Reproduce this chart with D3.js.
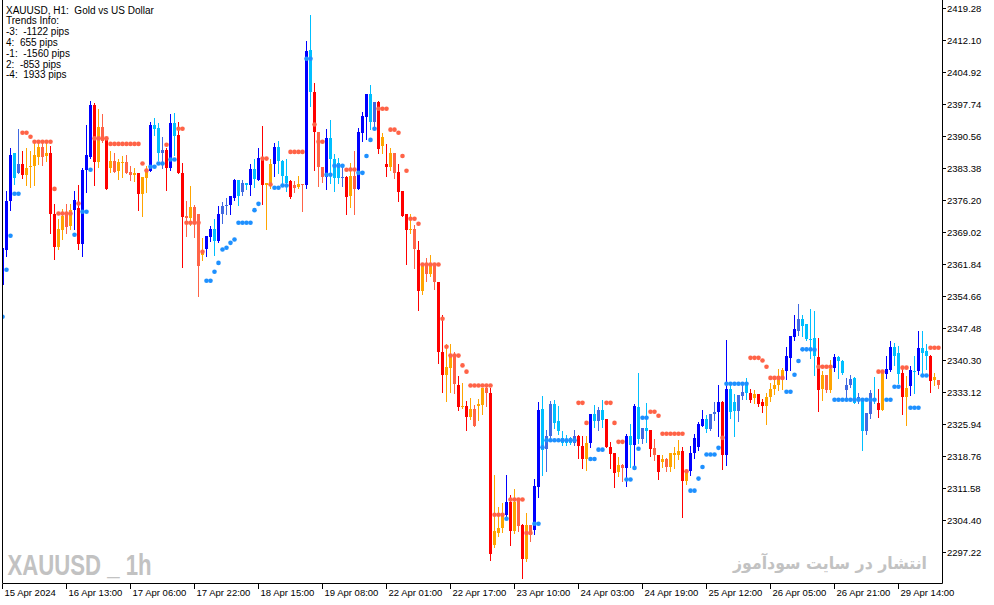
<!DOCTYPE html>
<html>
<head>
<meta charset="utf-8">
<script src="https://cdn.jsdelivr.net/npm/d3@7"></script>
<style>
    body { margin: 0; background: #ffffff; }
    #chart { width: 994px; height: 605px; }
</style>
</head>
<body>
<div id="chart"></div>
<script>

// H1 bars, oldest first
const opens = [
    2357.2, 2365.2, 2376.04, 2381.14, 2382.33, 2384.5, 2383.6, 2384.05, 2386.3, 2388.3,
    2388.3, 2386.75, 2386.75, 2373.06, 2369.7, 2372.83, 2373.28, 2374.18, 2374.18, 2374.56,
    2366.33, 2383.15, 2386.07, 2397.74, 2392.58, 2392.58, 2389.8, 2385.17, 2385.17, 2384.73,
    2384.95, 2384.95, 2382.5, 2382.26, 2382.26, 2381.43, 2383.15, 2382.8, 2392.15, 2386.9,
    2386.75, 2387.64, 2383.4, 2390.6, 2390.85, 2382.4, 2372.67, 2374.7, 2374.7, 2373.06,
    2364.98, 2365.36, 2367.97, 2367.2, 2367.2, 2373.06, 2374.9, 2375.3, 2376.8, 2377.17,
    2378.06, 2379.57, 2379.57, 2381.07, 2380.9, 2385.6, 2380.17, 2384.3, 2384.3, 2385.0,
    2381.65, 2380.17, 2380.53, 2379.57, 2380.0, 2380.0, 2379.57, 2400.6, 2400.6, 2391.6,
    2383.67, 2381.43, 2385.4, 2381.3, 2381.3, 2381.3, 2381.43, 2381.8, 2381.8, 2378.7,
    2391.25, 2395.0, 2393.8, 2393.8, 2398.35, 2390.5, 2384.3, 2386.75, 2386.75, 2382.55,
    2378.3, 2373.06, 2369.9, 2369.9, 2365.2, 2361.84, 2361.6, 2361.84, 2361.84, 2357.9,
    2342.16, 2338.8, 2341.6, 2341.6, 2334.9, 2330.05, 2330.2, 2329.46, 2329.46, 2330.65,
    2334.17, 2334.17, 2332.9, 2302.15, 2302.75, 2305.75, 2305.6, 2308.5, 2308.5, 2308.95,
    2303.5, 2303.5, 2303.3, 2302.2, 2311.9, 2320.3, 2320.55, 2323.3, 2326.3, 2324.5,
    2321.8, 2321.7, 2321.8, 2321.8, 2323.47, 2321.2, 2321.8, 2321.8, 2326.7, 2326.7,
    2326.9, 2327.1, 2320.95, 2319.45, 2316.96, 2316.96, 2316.1, 2321.3, 2321.3, 2322.6,
    2322.6, 2324.5, 2324.8, 2320.7, 2319.2, 2318.26, 2318.1, 2319.45, 2319.45, 2320.1,
    2320.1, 2315.2, 2315.46, 2319.6, 2321.0, 2325.7, 2325.0, 2325.0, 2328.2, 2328.7,
    2331.0, 2319.07, 2328.7, 2328.9, 2328.9, 2332.3, 2333.05, 2333.05, 2332.7, 2332.7,
    2330.9, 2332.15, 2334.0, 2334.9, 2336.3, 2338.1, 2337.9, 2340.75, 2345.5, 2346.9,
    2348.0, 2345.2, 2344.9, 2341.3, 2341.15, 2336.95, 2336.95, 2338.3, 2338.7, 2340.2,
    2337.5, 2333.65, 2334.9, 2330.8, 2331.2, 2324.5, 2324.5, 2328.4, 2331.2, 2330.8,
    2337.54, 2337.3, 2338.1, 2341.3, 2337.2, 2337.4, 2334.17, 2334.5, 2337.8, 2337.9,
    2342.05, 2341.3, 2341.4, 2336.7, 2335.9
];

const closes = [
    2365.59, 2376.2, 2386.52, 2386.97, 2384.5, 2382.03, 2381.9, 2383.67, 2383.9, 2386.07,
    2386.07, 2386.14, 2373.06, 2365.72, 2365.72, 2369.54, 2370.2, 2370.37, 2376.35, 2366.33,
    2383.15, 2386.3, 2397.74, 2384.8, 2384.8, 2389.66, 2378.74, 2383.45, 2382.7, 2382.8,
    2384.66, 2382.33, 2381.9, 2381.9, 2377.6, 2377.6, 2381.2, 2393.25, 2393.25, 2392.5,
    2387.64, 2383.4, 2393.63, 2393.63, 2382.26, 2372.45, 2372.3, 2372.3, 2371.2, 2361.47,
    2364.08, 2368.2, 2369.85, 2369.85, 2373.28, 2375.07, 2375.3, 2377.17, 2380.9, 2380.9,
    2380.17, 2380.17, 2383.3, 2383.3, 2385.78, 2379.63, 2379.63, 2379.8, 2388.25, 2388.25,
    2385.17, 2381.65, 2377.03, 2379.05, 2379.2, 2379.57, 2409.7, 2409.9, 2391.5, 2383.67,
    2381.43, 2390.27, 2390.27, 2385.6, 2384.66, 2381.43, 2376.94, 2377.17, 2378.7, 2391.5,
    2395.1, 2400.0, 2400.0, 2398.35, 2387.7, 2388.4, 2383.7, 2383.67, 2382.26, 2378.06,
    2372.83, 2369.54, 2369.54, 2365.43, 2355.87, 2355.87, 2359.75, 2359.75, 2357.9, 2342.16,
    2336.98, 2336.98, 2338.6, 2335.07, 2329.8, 2329.8, 2327.6, 2327.6, 2325.7, 2330.05,
    2330.4, 2333.05, 2296.95, 2298.8, 2301.6, 2302.75, 2308.6, 2302.0, 2302.0, 2303.1,
    2295.65, 2295.65, 2301.6, 2312.1, 2329.3, 2329.46, 2323.47, 2330.65, 2330.65, 2326.7,
    2322.95, 2322.6, 2322.9, 2323.47, 2321.07, 2318.3, 2318.3, 2328.2, 2328.2, 2329.1,
    2329.1, 2320.95, 2319.4, 2315.1, 2315.3, 2316.2, 2323.47, 2323.47, 2330.0, 2329.9,
    2325.2, 2325.2, 2320.55, 2319.07, 2315.3, 2317.5, 2316.4, 2316.4, 2319.2, 2319.2,
    2313.2, 2313.2, 2319.6, 2322.95, 2325.95, 2327.1, 2327.1, 2328.4, 2328.8, 2331.0,
    2319.2, 2334.0, 2334.0, 2330.9, 2332.45, 2333.3, 2335.4, 2331.4, 2331.8, 2330.65,
    2330.0, 2330.0, 2332.1, 2333.8, 2334.8, 2336.3, 2341.2, 2345.9, 2347.3, 2349.5,
    2349.5, 2348.4, 2345.2, 2345.3, 2333.65, 2333.8, 2333.65, 2333.65, 2341.15, 2341.15,
    2340.2, 2334.9, 2336.2, 2336.3, 2332.15, 2331.55, 2328.57, 2333.05, 2331.9, 2329.15,
    2329.3, 2338.3, 2343.4, 2343.4, 2341.9, 2332.15, 2332.15, 2338.1, 2337.9, 2343.0,
    2343.2, 2342.4, 2335.7, 2335.9, 2334.9
];

const highs = [
    2365.6, 2378.4, 2387.87, 2386.97, 2392.35, 2387.4, 2387.87, 2387.2, 2389.37, 2389.37,
    2389.37, 2389.37, 2388.32, 2375.5, 2372.16, 2374.34, 2375.5, 2375.5, 2378.4, 2379.57,
    2383.6, 2393.25, 2398.5, 2397.98, 2396.62, 2395.5, 2390.27, 2387.2, 2386.97, 2385.4,
    2386.14, 2386.3, 2384.05, 2383.4, 2382.3, 2381.43, 2383.9, 2393.88, 2394.6, 2393.63,
    2390.5, 2388.0, 2395.5, 2395.9, 2393.9, 2384.66, 2376.2, 2379.4, 2375.3, 2373.1,
    2367.8, 2368.2, 2370.45, 2372.1, 2375.07, 2375.85, 2376.8, 2377.3, 2381.1, 2380.9,
    2380.9, 2380.2, 2384.3, 2385.6, 2387.87, 2393.0, 2380.2, 2385.6, 2389.0, 2389.66,
    2385.2, 2385.4, 2380.76, 2380.5, 2381.8, 2380.0, 2411.9, 2417.9, 2402.6, 2391.6,
    2383.7, 2392.15, 2394.17, 2386.7, 2385.78, 2383.9, 2381.65, 2384.66, 2387.3, 2392.5,
    2396.1, 2400.0, 2402.2, 2398.35, 2398.6, 2391.4, 2388.8, 2387.87, 2386.75, 2384.5,
    2378.3, 2373.1, 2373.28, 2370.8, 2367.2, 2361.84, 2363.3, 2363.86, 2361.84, 2357.9,
    2350.6, 2344.05, 2344.05, 2342.16, 2336.8, 2335.3, 2331.2, 2331.9, 2330.4, 2331.55,
    2334.2, 2335.1, 2334.2, 2314.5, 2307.4, 2308.4, 2314.7, 2310.2, 2311.4, 2309.0,
    2303.7, 2306.1, 2303.3, 2313.8, 2330.9, 2332.3, 2324.8, 2331.3, 2331.4, 2330.0,
    2324.5, 2323.5, 2323.2, 2324.6, 2323.5, 2323.3, 2323.3, 2328.4, 2330.4, 2329.9,
    2331.4, 2327.2, 2322.1, 2319.45, 2318.7, 2317.0, 2323.7, 2326.1, 2330.65, 2337.4,
    2325.2, 2330.8, 2324.8, 2322.6, 2319.2, 2319.0, 2318.5, 2319.6, 2320.9, 2322.4,
    2320.9, 2315.2, 2321.1, 2323.9, 2326.5, 2329.1, 2327.96, 2328.4, 2330.9, 2334.9,
    2331.3, 2345.0, 2335.07, 2332.7, 2332.5, 2335.07, 2336.4, 2333.8, 2333.6, 2332.7,
    2331.55, 2333.05, 2335.3, 2336.0, 2338.3, 2338.7, 2343.4, 2345.9, 2350.4, 2352.9,
    2350.6, 2348.5, 2351.8, 2351.3, 2345.4, 2337.9, 2337.0, 2340.5, 2341.7, 2341.2,
    2340.3, 2336.3, 2336.95, 2336.7, 2333.05, 2331.6, 2328.6, 2333.6, 2336.7, 2333.8,
    2337.9, 2341.4, 2344.7, 2344.3, 2343.5, 2338.7, 2336.8, 2339.0, 2341.3, 2346.9,
    2346.9, 2343.9, 2341.5, 2337.4, 2335.9
];

const lows = [
    2357.2, 2363.7, 2374.02, 2380.0, 2382.3, 2381.14, 2379.63, 2379.34, 2379.63, 2384.5,
    2384.1, 2385.0, 2368.8, 2363.0, 2365.27, 2367.5, 2368.8, 2369.7, 2369.7, 2365.43,
    2363.7, 2378.06, 2385.7, 2379.79, 2383.67, 2389.37, 2378.74, 2382.7, 2382.55, 2380.98,
    2381.43, 2382.3, 2380.76, 2380.53, 2374.18, 2372.67, 2378.06, 2382.8, 2391.0, 2385.24,
    2383.54, 2378.5, 2383.0, 2386.4, 2382.26, 2361.23, 2368.2, 2370.8, 2367.97, 2354.72,
    2362.96, 2363.7, 2367.07, 2364.08, 2366.85, 2371.2, 2373.28, 2373.2, 2376.26, 2375.1,
    2377.54, 2378.7, 2377.4, 2379.2, 2380.76, 2375.5, 2369.7, 2379.05, 2381.65, 2382.4,
    2380.17, 2378.3, 2376.8, 2378.17, 2379.05, 2373.8, 2379.05, 2397.5, 2383.0, 2379.4,
    2380.3, 2378.7, 2380.17, 2378.3, 2380.17, 2379.4, 2373.06, 2374.7, 2373.06, 2378.7,
    2389.5, 2389.9, 2392.3, 2392.9, 2386.75, 2386.9, 2381.8, 2383.0, 2381.14, 2376.2,
    2372.67, 2361.9, 2368.97, 2360.96, 2351.6, 2355.3, 2358.1, 2359.2, 2356.4, 2339.8,
    2333.3, 2331.2, 2333.2, 2333.05, 2329.1, 2329.7, 2324.6, 2327.2, 2325.6, 2326.9,
    2328.2, 2330.2, 2295.5, 2298.4, 2300.9, 2301.8, 2305.4, 2299.0, 2301.6, 2302.0,
    2291.4, 2295.4, 2299.8, 2301.3, 2309.6, 2314.5, 2315.5, 2322.4, 2325.2, 2323.7,
    2321.45, 2321.45, 2321.5, 2321.45, 2318.4, 2316.1, 2315.7, 2320.95, 2325.4, 2324.6,
    2325.4, 2320.9, 2316.1, 2311.9, 2314.4, 2313.2, 2312.1, 2316.5, 2316.96, 2321.7,
    2321.8, 2322.0, 2318.85, 2317.9, 2313.6, 2316.5, 2315.5, 2315.5, 2316.2, 2318.1,
    2305.15, 2312.5, 2314.5, 2318.5, 2320.3, 2325.6, 2324.2, 2324.6, 2326.9, 2323.3,
    2315.85, 2316.96, 2327.46, 2323.3, 2326.7, 2331.55, 2331.55, 2330.9, 2330.8, 2330.1,
    2328.7, 2326.1, 2331.2, 2332.85, 2333.7, 2333.9, 2336.05, 2338.1, 2345.0, 2346.1,
    2345.9, 2344.9, 2340.9, 2336.95, 2328.9, 2331.4, 2333.3, 2333.3, 2337.9, 2336.3,
    2337.2, 2332.2, 2334.4, 2330.8, 2330.8, 2320.2, 2323.7, 2327.46, 2330.8, 2327.6,
    2329.15, 2336.4, 2337.9, 2339.4, 2335.2, 2328.4, 2325.8, 2332.45, 2333.05, 2337.2,
    2337.2, 2338.3, 2333.2, 2334.9, 2334.05
];

// candle state: B strong bull, S soft bull, R weak bull, r strong bear, o soft bear, t weak bear
const candleState = Array.from(
    "BBBSRroooo" + "torrootoBr" + "BBBrotroto" + "ottorooBSS" + "RrBSrrtott" +
    "oBBSBRRBBS" + "RSBSBrooBS" + "SSrtotBSrt" + "tBSSSRrotB" + "BBSRrorotr" +
    "rrotrototr" + "rootroroto" + "otroooBrot" + "rotBBSRRSS" + "SSSRrroBSR" +
    "SrrrotBSBS" + "RSrtrotooo" + "roBBBBSRRB" + "rBSSRRSror" + "roooooBBBR" +
    "SSSSrotoBS" + "SRRSRSRRSr" + "oBBSSroBSB" + "SSrot"
);

// trend stop dots: value and side (u = support below, d = resistance above)
const stopValues = [
    2350.1, 2360.65, 2368.28, 2377.7, 2377.7, 2391.39, 2391.39, 2390.5, 2389.37, 2389.37,
    2389.37, 2389.37, 2389.37, 2378.8, 2373.28, 2373.28, 2373.28, 2373.28, 2368.5, 2375.5,
    2373.66, 2373.66, 2383.1, 2390.13, 2390.13, 2390.13, 2390.13, 2388.9, 2388.9, 2388.9,
    2388.9, 2388.9, 2388.9, 2388.9, 2388.9, 2384.5, 2382.93, 2383.76, 2383.76, 2384.5,
    2384.5, 2388.7, 2385.4, 2385.4, 2392.3, 2392.3, 2371.2, 2371.2, 2371.2, 2371.2,
    2364.7, 2358.2, 2358.2, 2360.2, 2362.2, 2365.2, 2365.6, 2366.7, 2367.45, 2371.2,
    2371.2, 2371.2, 2371.2, 2374.03, 2375.45, 2385.6, 2385.6, 2379.79, 2379.05, 2379.05,
    2379.57, 2379.57, 2387.1, 2387.1, 2387.1, 2387.1, 2408.0, 2408.0, 2393.25, 2389.37,
    2389.37, 2381.97, 2381.97, 2383.98, 2383.98, 2383.98, 2383.1, 2383.15, 2383.15, 2382.4,
    2382.4, 2386.2, 2389.8, 2392.3, 2396.8, 2396.8, 2396.8, 2392.1, 2392.1, 2391.39,
    2386.2, 2382.86, 2372.1, 2372.1, 2370.97, 2361.84, 2361.84, 2361.84, 2361.84, 2361.84,
    2349.66, 2343.4, 2341.4, 2341.4, 2341.4, 2339.2, 2337.8, 2334.7, 2334.7, 2334.7,
    2334.7, 2334.7, 2334.7, 2305.7, 2305.7, 2305.7, 2304.8, 2309.1, 2309.1, 2309.1,
    2309.1, 2301.6, 2301.6, 2303.66, 2303.66, 2320.85, 2322.4, 2322.4, 2322.4, 2322.4,
    2322.4, 2322.4, 2322.4, 2322.4, 2330.8, 2330.8, 2326.3, 2318.2, 2318.2, 2320.3,
    2320.3, 2330.8, 2330.8, 2326.3, 2322.05, 2322.05, 2313.6, 2313.6, 2316.2, 2320.5,
    2327.46, 2327.46, 2328.8, 2328.8, 2327.9, 2323.85, 2323.85, 2323.85, 2323.85, 2323.85,
    2323.85, 2315.46, 2311.1, 2311.1, 2313.8, 2316.4, 2319.2, 2319.2, 2319.2, 2320.7,
    2322.95, 2335.07, 2335.07, 2335.07, 2335.07, 2335.07, 2335.07, 2340.9, 2340.9, 2340.9,
    2340.3, 2338.9, 2336.4, 2336.4, 2336.4, 2336.4, 2333.3, 2333.3, 2337.1, 2340.2,
    2342.8, 2342.8, 2342.8, 2342.7, 2338.9, 2338.9, 2338.9, 2338.9, 2331.5, 2331.5,
    2331.5, 2331.5, 2331.5, 2331.5, 2331.5, 2331.5, 2331.5, 2331.5, 2331.5, 2337.8,
    2337.8, 2331.5, 2331.5, 2334.4, 2334.4, 2338.7, 2338.7, 2329.7, 2329.7, 2329.7,
    2336.95, 2336.95, 2343.16, 2343.16, 2343.16
];

const stopSide = Array.from(
    "uuuuuddddd" + "ddddddddud" + "uuuddddddd" + "ddddddduuu" + "uduudddddd" +
    "duuuuuuuuu" + "uuuuuddduu" + "uudddduudd" + "duuuuudddu" + "uuuudddddd" +
    "dddddddddd" + "dddddddddd" + "dddddduddd" + "ddduuuuuuu" + "uuuuddduuu" +
    "uddddduuuu" + "uudddddddd" + "dduuuuuuuu" + "duuuuuuddd" + "dddddduuuu" +
    "uuuudddduu" + "uuuuuuuuud" + "duuuudduuu" + "uuddd"
);

const priceTicks = [2419.28, 2412.10, 2404.92, 2397.74, 2390.56, 2383.38, 2376.20, 2369.02, 2361.84,
    2354.66, 2347.48, 2340.30, 2333.12, 2325.94, 2318.76, 2311.58, 2304.40, 2297.22];

const timeTickBars = [0, 16, 32, 48, 64, 80, 96, 112, 128, 144, 160, 176, 192, 208, 224];
const timeTickLabels = ["15 Apr 2024", "16 Apr 13:00", "17 Apr 06:00", "17 Apr 22:00", "18 Apr 15:00",
    "19 Apr 08:00", "22 Apr 01:00", "22 Apr 17:00", "23 Apr 10:00", "24 Apr 03:00", "24 Apr 19:00",
    "25 Apr 12:00", "26 Apr 05:00", "26 Apr 21:00", "29 Apr 14:00"];

const headerLines = ["XAUUSD, H1:  Gold vs US Dollar", "Trends Info:", "-3:  -1122 pips", "4:  655 pips",
    "-1:  -1560 pips", "2:  -853 pips", "-4:  1933 pips"];


class CandleVis {

    constructor(parentElement) {
        this.parentElement = parentElement;
        this.displayData = [];
        this.initVis();
    }

    initVis() {
        let vis = this;

        vis.width = 994;
        vis.height = 605;
        vis.frame = {left: 2.5, right: 942.5, bottom: 583.5};

        vis.svg = d3.select("#" + vis.parentElement).append("svg")
            .attr("width", vis.width)
            .attr("height", vis.height);

        vis.svg.append("rect")
            .attr("width", vis.width)
            .attr("height", vis.height)
            .attr("fill", "#ffffff");

        vis.svg.append("clipPath").attr("id", "plotClip")
            .append("rect")
            .attr("x", 3).attr("y", 0)
            .attr("width", 939).attr("height", 583);

        // one bar every 4px, centre of bar 0 at x=2.5
        vis.xScale = d3.scaleBand()
            .domain(d3.range(opens.length))
            .range([0.5, 0.5 + opens.length * 4])
            .padding(0);

        vis.yScale = d3.scaleLinear()
            .domain([d3.min(priceTicks), d3.max(priceTicks)])
            .range([552.5, 8.5]);

        vis.toneColor = {
            B: "#0000ff", S: "#00bfff", R: "#4169e1",
            r: "#ff0000", o: "#ffa500", t: "#ff6347"
        };
        vis.stopColor = {u: "#1e90ff", d: "#ff6347"};

        // watermarks sit behind the candles
        vis.svg.append("text")
            .attr("x", 7.5)
            .attr("y", 575)
            .attr("font-family", "'Liberation Sans Narrow', 'Liberation Sans', Arial, sans-serif")
            .attr("font-weight", "bold")
            .attr("font-size", 30)
            .attr("textLength", 144)
            .attr("lengthAdjust", "spacingAndGlyphs")
            .attr("fill", "#c2c2c2")
            .text("XAUUSD _ 1h");

        vis.svg.append("text")
            .attr("x", 830)
            .attr("y", 569)
            .attr("text-anchor", "middle")
            .attr("font-family", "'DejaVu Sans', sans-serif")
            .attr("font-weight", "bold")
            .attr("font-size", 17)
            .attr("textLength", 194)
            .attr("lengthAdjust", "spacingAndGlyphs")
            .attr("fill", "#c2c2c2")
            .text("انتشار در سایت سودآموز");

        vis.plot = vis.svg.append("g").attr("clip-path", "url(#plotClip)");

        vis.yAxis = d3.axisRight(vis.yScale)
            .tickValues(priceTicks)
            .tickSize(3)
            .tickPadding(1)
            .tickSizeOuter(0)
            .tickFormat(d3.format(".2f"));

        vis.xAxis = d3.axisBottom(vis.xScale)
            .tickValues(timeTickBars)
            .tickSize(5)
            .tickSizeOuter(0)
            .tickFormat((d, i) => timeTickLabels[i]);

        if (vis.yAxis.offset) {
            vis.yAxis.offset(0);
            vis.xAxis.offset(0);
        }

        vis.yAxisGroup = vis.svg.append("g")
            .attr("class", "axis y-axis")
            .attr("transform", `translate(${vis.frame.right + 0.5}, 0)`);

        vis.xAxisGroup = vis.svg.append("g")
            .attr("class", "axis x-axis")
            .attr("transform", `translate(0, ${vis.frame.bottom + 0.5})`);

        vis.wrangleData();
    }

    wrangleData() {
        let vis = this;

        vis.displayData = opens.map((o, i) => ({
            index: i,
            open: o,
            close: closes[i],
            high: highs[i],
            low: lows[i],
            state: candleState[i],
            stop: stopValues[i],
            side: stopSide[i]
        }));

        vis.updateVis();
    }

    updateVis() {
        let vis = this;
        let half = vis.xScale.bandwidth() / 2;
        let cx = d => vis.xScale(d.index) + half;

        // wicks
        vis.plot.selectAll(".wick")
            .data(vis.displayData)
            .enter()
            .append("line")
            .attr("class", "wick")
            .attr("x1", cx)
            .attr("x2", cx)
            .attr("y1", d => Math.round(vis.yScale(d.high)))
            .attr("y2", d => Math.round(vis.yScale(d.low)) + 1)
            .attr("stroke", d => vis.toneColor[d.state])
            .attr("stroke-width", 1);

        // bodies
        vis.plot.selectAll(".body")
            .data(vis.displayData)
            .enter()
            .append("rect")
            .attr("class", "body")
            .attr("x", d => cx(d) - 1.5)
            .attr("width", 3)
            .attr("y", d => Math.round(vis.yScale(Math.max(d.open, d.close))))
            .attr("height", d => Math.max(1,
                Math.round(vis.yScale(Math.min(d.open, d.close))) - Math.round(vis.yScale(Math.max(d.open, d.close)))))
            .attr("fill", d => vis.toneColor[d.state]);

        // trend stop dots
        vis.plot.selectAll(".stop")
            .data(vis.displayData)
            .enter()
            .append("circle")
            .attr("class", "stop")
            .attr("cx", cx)
            .attr("cy", d => vis.yScale(d.stop))
            .attr("r", 2.3)
            .attr("fill", d => vis.stopColor[d.side]);

        // frame
        vis.svg.append("path")
            .attr("d", `M${vis.frame.left},0V${vis.frame.bottom}H${vis.frame.right}V0`)
            .attr("fill", "none")
            .attr("stroke", "#000000")
            .attr("stroke-width", 1);

        // axes
        vis.yAxisGroup.call(vis.yAxis);
        vis.yAxisGroup.select(".domain").remove();
        vis.yAxisGroup.selectAll("line").attr("stroke", "#000000");
        vis.yAxisGroup.selectAll("text")
            .attr("font-family", "'Liberation Sans', Arial, sans-serif")
            .attr("font-size", 9.5)
            .attr("fill", "#000000");

        vis.xAxisGroup.call(vis.xAxis);
        vis.xAxisGroup.select(".domain").remove();
        vis.xAxisGroup.selectAll("line").attr("stroke", "#000000");
        vis.xAxisGroup.selectAll("text")
            .attr("text-anchor", "start")
            .attr("x", 2)
            .attr("y", 12)
            .attr("dy", null)
            .attr("font-family", "'Liberation Sans', Arial, sans-serif")
            .attr("font-size", 9.5)
            .attr("fill", "#000000");

        // header info in the top-left corner
        vis.svg.append("g")
            .attr("class", "header")
            .selectAll("text")
            .data(headerLines)
            .enter()
            .append("text")
            .attr("x", 6)
            .attr("y", (d, i) => 13.5 + i * 10.8)
            .attr("font-family", "'Liberation Sans', Arial, sans-serif")
            .attr("font-size", 10)
            .attr("fill", "#000000")
            .style("white-space", "pre")
            .text(d => d);
    }
}

let candleVis = new CandleVis("chart");

</script>
</body>
</html>
